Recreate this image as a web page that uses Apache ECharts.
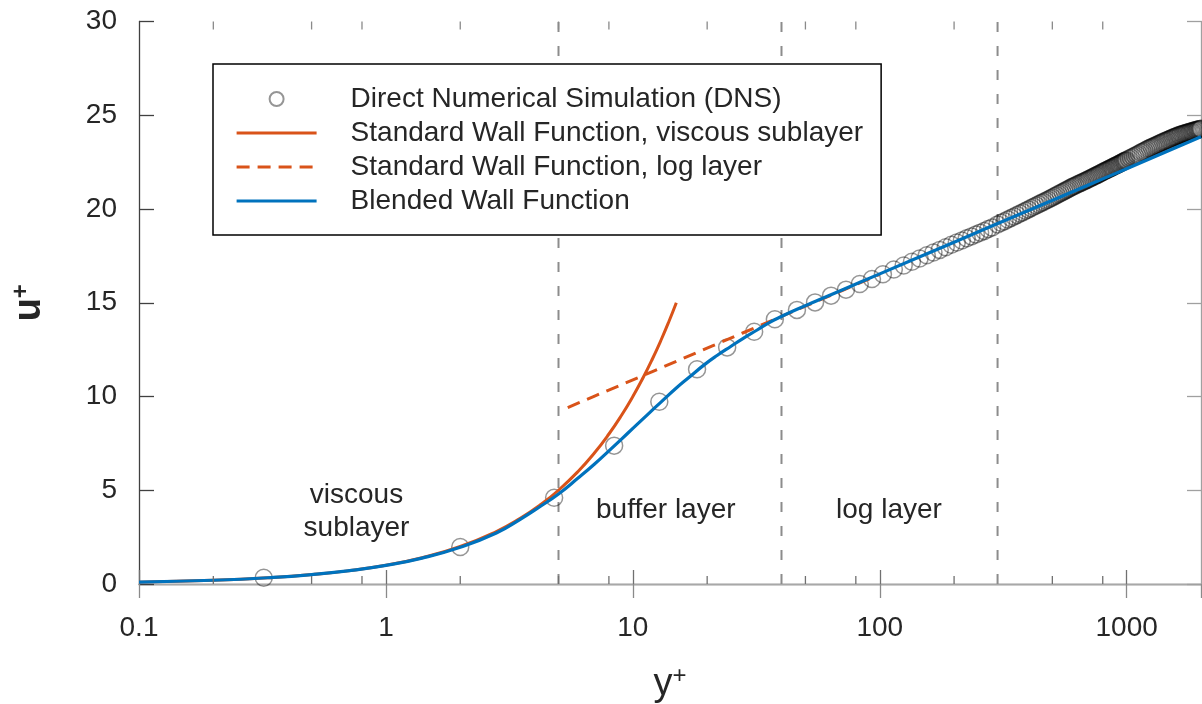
<!DOCTYPE html>
<html>
<head>
<meta charset="utf-8">
<script src="https://cdn.jsdelivr.net/npm/echarts@6/dist/echarts.min.js"></script>
<style>
  html, body { margin: 0; padding: 0; background: #ffffff; }
  #chart { width: 1202px; height: 704px; }
</style>
</head>
<body>
<div id="chart"></div>
<script>
// ---- data -------------------------------------------------------------
const xTickLabels = ['0.1', '1', '10', '100', '1000'];
const minorTickValues = [0.2, 0.5, 0.8, 2, 5, 8, 20, 50, 80, 200, 500, 800];
const regionBounds = [5, 40, 300];

// DNS velocity profile (y+, u+)
const dnsYPlus = [
  0.32, 2.0, 4.8, 8.4, 12.8, 18.2, 24.1, 31.0, 37.6, 46.2,
  54.7, 63.5, 73, 83, 93, 103, 114, 125, 135, 145,
  155, 165, 175, 185, 195, 205, 215, 225, 235, 245,
  255, 265, 275, 285,
  300, 310, 320, 330, 340, 350, 360, 370, 380, 390,
  400, 410, 420, 430, 440, 450, 460, 470, 480, 490,
  500, 510, 520, 530, 540, 550, 560, 570, 580, 590,
  600, 610, 620, 630, 640, 650, 660, 670, 680, 690,
  700, 710, 720, 730, 740, 750, 760, 770, 780, 790,
  800, 810, 820, 830, 840, 850, 860, 870, 880, 890,
  900, 910, 920, 930, 940, 950, 960, 970, 980, 990,
  1000, 1020, 1040, 1060, 1080, 1100, 1120, 1140, 1160, 1180,
  1200, 1220, 1240, 1260, 1280, 1300, 1320, 1340, 1360, 1380,
  1400, 1420, 1440, 1460, 1480, 1500, 1520, 1540, 1560, 1580,
  1600, 1620, 1640, 1660, 1680, 1700, 1720, 1740, 1760, 1780,
  1800, 1820, 1840, 1860, 1880, 1900, 1920, 1940, 1960, 1980,
  2000
];
const dnsUPlus = [
  0.33, 1.97, 4.6, 7.38, 9.72, 11.45, 12.62, 13.45, 14.12, 14.62,
  15.02, 15.38, 15.7, 16.0, 16.27, 16.52, 16.77, 16.99, 17.19, 17.36,
  17.53, 17.68, 17.82, 17.96, 18.09, 18.21, 18.32, 18.44, 18.54, 18.64,
  18.74, 18.83, 18.93, 19.01,
  19.18, 19.27, 19.35, 19.44, 19.52, 19.60, 19.68, 19.76, 19.83, 19.91,
  19.98, 20.05, 20.12, 20.19, 20.25, 20.32, 20.38, 20.44, 20.50, 20.56,
  20.62, 20.68, 20.74, 20.80, 20.85, 20.91, 20.96, 21.02, 21.07, 21.12,
  21.17, 21.22, 21.26, 21.31, 21.35, 21.39, 21.43, 21.47, 21.51, 21.55,
  21.59, 21.63, 21.67, 21.71, 21.75, 21.79, 21.82, 21.86, 21.90, 21.94,
  21.97, 22.01, 22.04, 22.08, 22.11, 22.15, 22.18, 22.21, 22.24, 22.28,
  22.31, 22.34, 22.37, 22.40, 22.43, 22.47, 22.50, 22.53, 22.56, 22.59,
  22.62, 22.68, 22.73, 22.79, 22.84, 22.90, 22.95, 23.01, 23.06, 23.11,
  23.16, 23.21, 23.25, 23.30, 23.34, 23.38, 23.42, 23.46, 23.50, 23.54,
  23.58, 23.61, 23.64, 23.68, 23.71, 23.75, 23.78, 23.81, 23.84, 23.87,
  23.90, 23.93, 23.95, 23.98, 24.00, 24.02, 24.04, 24.06, 24.08, 24.10,
  24.12, 24.14, 24.15, 24.17, 24.19, 24.21, 24.22, 24.24, 24.25, 24.27,
  24.28
];

// Standard wall function, viscous sublayer branch
const viscousYPlus = [0.1, 0.2, 0.35, 0.5, 0.7, 1, 1.4, 2, 2.8, 3.5, 4.2, 5, 6, 7, 8, 9, 10, 11, 12, 13, 14, 15];
const viscousUPlus = [0.1, 0.2, 0.35, 0.5, 0.7, 1, 1.4, 2, 2.8, 3.5, 4.2, 5, 6, 7, 8, 9, 10, 11, 12, 13, 14, 15];

// Standard wall function, log-layer branch
const logLawYPlus = [5.45, 7, 9, 12, 16, 21, 28, 37, 50, 70, 100];
const logLawUPlus = [9.41, 10.02, 10.63, 11.33, 12.03, 12.70, 13.40, 14.08, 14.82, 15.64, 16.51];

// Blended wall function
const blendedYPlus = [0.1, 0.2, 0.35, 0.5, 0.7, 1, 1.4, 2, 2.8, 3.5, 4.2, 5, 6, 7, 8, 9, 10, 11.5, 13, 15,
  17, 19.5, 22, 25, 28, 32, 36, 40, 46, 55, 70, 100, 200, 400, 700, 1000, 2000];
const blendedUPlus = [0.1, 0.2, 0.35, 0.5, 0.7, 0.99, 1.38, 1.96, 2.72, 3.45, 4.12, 4.8, 5.65, 6.4, 7.1, 7.73, 8.3, 9.05, 9.7, 10.45,
  11.05, 11.7, 12.2, 12.68, 13.1, 13.56, 13.97, 14.27, 14.64, 15.08, 15.67, 16.54, 18.23, 19.92, 21.28, 22.15, 23.85];

// Region annotations (y+, u+)
const regionNoteText = ['viscous\nsublayer', 'buffer layer', 'log layer'];
const regionNoteYPlus = [0.76, 13.6, 109];
const regionNoteUPlus = [3.86, 3.94, 3.94];

// ---- chart ------------------------------------------------------------
const FONT = "'Liberation Sans', Arial, Helvetica, sans-serif";
const TEXT = '#262626';
const ORANGE = '#D95319';
const BLUE = '#0072BD';
const Y_MIN = 0, Y_MAX = 30;
const X_MIN = 0.1, X_MAX = 2000;

const zip = (xs, ys) => xs.map((x, i) => [x, ys[i]]);

const chart = echarts.init(document.getElementById('chart'), null, { renderer: 'canvas' });

// legend entries for the curves: line only, no marker
const lineLegendItem = name => ({ name: name, itemStyle: { opacity: 0 }, lineStyle: { width: 3.2 } });

const option = {
  backgroundColor: '#ffffff',
  animation: false,
  grid: { left: 139, top: 21.5, right: 1, bottom: 120, outerBoundsMode: 'none' },
  legend: {
    data: [
      { name: 'Direct Numerical Simulation (DNS)' },
      lineLegendItem('Standard Wall Function, viscous sublayer'),
      lineLegendItem('Standard Wall Function, log layer'),
      lineLegendItem('Blended Wall Function')
    ],
    orient: 'vertical',
    left: 213,
    top: 64,
    padding: [21, 18, 20, 22],
    itemWidth: 80,
    itemHeight: 14,
    itemGap: 6,
    borderColor: '#000000',
    borderWidth: 1.5,
    backgroundColor: '#ffffff',
    selectedMode: false,
    textStyle: { fontFamily: FONT, fontSize: 28, color: TEXT, padding: [0, 0, 0, 29] }
  },
  xAxis: [
    {
      type: 'log', logBase: 10, min: X_MIN, max: X_MAX,
      name: '{v|y}{p|+}',
      nameLocation: 'middle',
      nameGap: 80,
      nameTextStyle: {
        rich: {
          v: { fontFamily: FONT, fontSize: 38, color: TEXT, lineHeight: 42 },
          p: { fontFamily: FONT, fontSize: 24, color: TEXT, lineHeight: 26, verticalAlign: 'top' }
        }
      },
      axisLine: { show: true, lineStyle: { color: '#707070', width: 1.3 } },
      axisTick: { show: true, inside: true, length: 14, lineStyle: { color: '#707070', width: 1.3 } },
      axisLabel: {
        fontFamily: FONT, fontSize: 28, color: TEXT, margin: 30,
        showMaxLabel: false,
        formatter: function (v) {
          const e = Math.log10(v);
          const r = Math.round(e);
          if (Math.abs(e - r) > 0.01) return '';
          return xTickLabels[r + 1] || '';
        }
      },
      splitLine: { show: false },
      minorTick: { show: false }
    },
    {
      type: 'log', logBase: 10, min: X_MIN, max: X_MAX, position: 'top',
      axisLine: { show: true, lineStyle: { color: '#a8a8a8', width: 1.3 } },
      axisTick: { show: true, inside: true, length: 14, lineStyle: { color: '#8a8a8a', width: 1.3 } },
      axisLabel: { show: false },
      splitLine: { show: false }
    }
  ],
  yAxis: [
    {
      type: 'value', min: Y_MIN, max: Y_MAX, interval: 5,
      name: '{v|u}{p|+}',
      nameLocation: 'middle',
      nameRotate: 90,
      nameGap: 88,
      nameTextStyle: {
        rich: {
          v: { fontFamily: FONT, fontSize: 38, fontWeight: 'bold', color: TEXT, lineHeight: 42 },
          p: { fontFamily: FONT, fontSize: 24, fontWeight: 'bold', color: TEXT, lineHeight: 26, verticalAlign: 'top' }
        }
      },
      axisLine: { show: true, lineStyle: { color: '#404040', width: 1.3 } },
      axisTick: { show: true, inside: true, length: 15, lineStyle: { color: '#404040', width: 1.3 } },
      axisLabel: { fontFamily: FONT, fontSize: 28, color: TEXT, margin: 22 },
      splitLine: { show: false }
    },
    {
      type: 'value', min: Y_MIN, max: Y_MAX, interval: 5, position: 'right',
      axisLine: { show: true, lineStyle: { color: '#a0a0a0', width: 1.3 } },
      axisTick: { show: true, inside: true, length: 14, lineStyle: { color: '#a0a0a0', width: 1.3 } },
      axisLabel: { show: false },
      splitLine: { show: false }
    }
  ],
  series: [
    // dashed region boundaries
    {
      name: 'bounds',
      type: 'custom',
      coordinateSystem: 'cartesian2d',
      silent: true,
      z: 1,
      data: regionBounds.map(v => [v, Y_MIN]),
      renderItem: function (params, api) {
        const x = api.value(0);
        const b = api.coord([x, Y_MIN]);
        const t = api.coord([x, Y_MAX]);
        return {
          type: 'line',
          shape: { x1: b[0], y1: b[1], x2: t[0], y2: t[1] },
          style: { stroke: '#8c8c8c', lineWidth: 2, lineDash: [10, 14] }
        };
      }
    },
    // minor ticks at 2, 5, 8 of each decade (bottom and top edges)
    {
      name: 'minorTicks',
      type: 'custom',
      coordinateSystem: 'cartesian2d',
      silent: true,
      z: 5,
      data: minorTickValues.map(v => [v, Y_MIN]),
      renderItem: function (params, api) {
        const x = api.value(0);
        const b = api.coord([x, Y_MIN]);
        const t = api.coord([x, Y_MAX]);
        return {
          type: 'group',
          children: [
            { type: 'line', shape: { x1: b[0], y1: b[1], x2: b[0], y2: b[1] - 8 }, style: { stroke: '#707070', lineWidth: 1.3 } },
            { type: 'line', shape: { x1: t[0], y1: t[1], x2: t[0], y2: t[1] + 8 }, style: { stroke: '#8a8a8a', lineWidth: 1.3 } }
          ]
        };
      }
    },
    {
      name: 'Direct Numerical Simulation (DNS)',
      type: 'scatter',
      data: zip(dnsYPlus, dnsUPlus),
      symbol: 'circle',
      symbolSize: 17,
      z: 2,
      itemStyle: { color: 'rgba(0,0,0,0)', borderColor: 'rgba(0,0,0,0.52)', borderWidth: 1.5 }
    },
    {
      name: 'Standard Wall Function, viscous sublayer',
      type: 'line',
      data: zip(viscousYPlus, viscousUPlus),
      symbol: 'none',
      smooth: true,
      z: 3,
      lineStyle: { color: ORANGE, width: 3 },
      itemStyle: { color: ORANGE }
    },
    {
      name: 'Standard Wall Function, log layer',
      type: 'line',
      data: zip(logLawYPlus, logLawUPlus),
      symbol: 'none',
      z: 3,
      lineStyle: { color: ORANGE, width: 3, type: [13, 8] },
      itemStyle: { color: ORANGE }
    },
    {
      name: 'Blended Wall Function',
      type: 'line',
      data: zip(blendedYPlus, blendedUPlus),
      symbol: 'none',
      smooth: true,
      z: 4,
      lineStyle: { color: BLUE, width: 3.2 },
      itemStyle: { color: BLUE }
    },
    // region labels
    {
      name: 'notes',
      type: 'custom',
      coordinateSystem: 'cartesian2d',
      silent: true,
      z: 6,
      data: regionNoteYPlus.map((x, i) => [x, regionNoteUPlus[i], i]),
      renderItem: function (params, api) {
        const p = api.coord([api.value(0), api.value(1)]);
        return {
          type: 'text',
          x: p[0],
          y: p[1],
          style: {
            text: regionNoteText[api.value(2)],
            fontFamily: FONT,
            fontSize: 28,
            lineHeight: 33,
            fill: TEXT,
            align: 'center',
            verticalAlign: 'middle'
          }
        };
      }
    }
  ]
};

chart.setOption(option);
</script>
</body>
</html>
